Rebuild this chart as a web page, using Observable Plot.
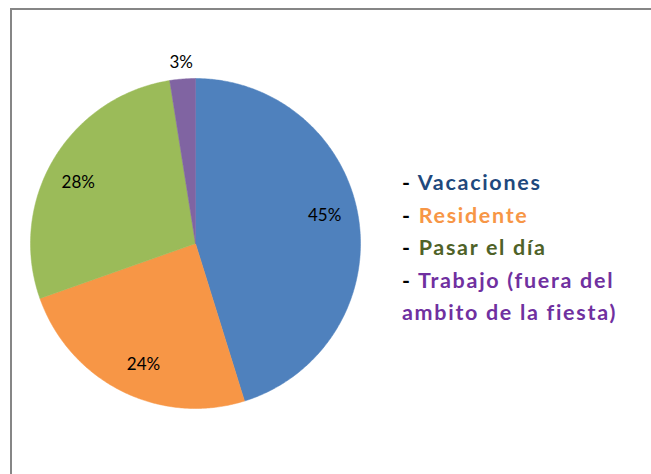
<!DOCTYPE html>
<html>
<head>
<meta charset="utf-8">
<script src="https://cdn.jsdelivr.net/npm/d3@7"></script>
<script src="https://cdn.jsdelivr.net/npm/@observablehq/plot@0.6"></script>
<style>
  html, body { margin: 0; padding: 0; background: #fff; overflow: hidden; }
  #wrap { position: relative; width: 651px; height: 474px; }
  #frame { position: absolute; left: 10px; top: 8px; width: 700px; height: 600px; border: 2px solid #868686; box-sizing: border-box; }
  #chart { position: absolute; left: 0; top: 0; }
  #legend { position: absolute; left: 402px; top: 166px; font-family: Lato, sans-serif; font-weight: bold; font-size: 21.5px; line-height: 32.5px; letter-spacing: 1.7px; font-variant-ligatures: none; }
  #legend .dash { color: #000; }
</style>
</head>
<body>
<div id="wrap">
  <div id="frame"></div>
  <div id="chart"></div>
  <div id="legend"></div>
</div>
<script>
const categories = ["Vacaciones", "Residente", "Pasar el día", "Trabajo (fuera del ambito de la fiesta)"];
const values = [45.2, 24.4, 27.9, 2.5];
const labels = ["45%", "24%", "28%", "3%"];
const sliceColors = ["#4F81BD", "#F79646", "#9BBB59", "#8064A2"];
const legendColors = ["#1F497D", "#F79646", "#4F6228", "#7030A0"];
const legendLines = [["- ", "Vacaciones", 0], ["- ", "Residente", 1], ["- ", "Pasar el día", 2], ["- ", "Trabajo (fuera del", 3], ["", "ambito de la fiesta)", 3]];

const arcs = d3.pie().sort(null)(values);
const pts = [];
arcs.forEach((a, i) => {
  const cat = categories[i];
  pts.push({cat, x: 0, y: 0});
  const n = Math.max(2, Math.ceil((a.endAngle - a.startAngle) / 0.01));
  for (let k = 0; k <= n; k++) {
    const t = a.startAngle + (a.endAngle - a.startAngle) * k / n;
    pts.push({cat, x: Math.sin(t), y: Math.cos(t)});
  }
  pts.push({cat, x: 0, y: 0});
});
const labelData = arcs.map((a, i) => {
  const m = (a.startAngle + a.endAngle) / 2 - (values[i] < 5 ? 0 : 0.06);
  const r = values[i] < 5 ? 1.1 : 0.8;
  return {x: r * Math.sin(m), y: r * Math.cos(m), text: labels[i]};
});

const chart = Plot.plot({
  width: 651,
  height: 474,
  margin: 0,
  style: {fontFamily: "Lato, sans-serif", background: "transparent"},
  x: {domain: [-1, 1], range: [30, 360], axis: null},
  y: {domain: [-1, 1], range: [408, 78], axis: null},
  color: {domain: categories, range: sliceColors},
  marks: [
    Plot.line(pts, {x: "x", y: "y", z: "cat", fill: "cat", stroke: "cat", strokeWidth: 0.5, curve: "linear"}),
    Plot.text(labelData, {x: "x", y: "y", text: "text", fontSize: 17, fill: "#000"})
  ]
});
document.getElementById("chart").appendChild(chart);

const leg = document.getElementById("legend");
legendLines.forEach(([dash, txt, ci]) => {
  const d = document.createElement("div");
  d.innerHTML = `<span class="dash">${dash}</span><span style="color:${legendColors[ci]}">${txt}</span>`;
  leg.appendChild(d);
});
</script>
</body>
</html>
